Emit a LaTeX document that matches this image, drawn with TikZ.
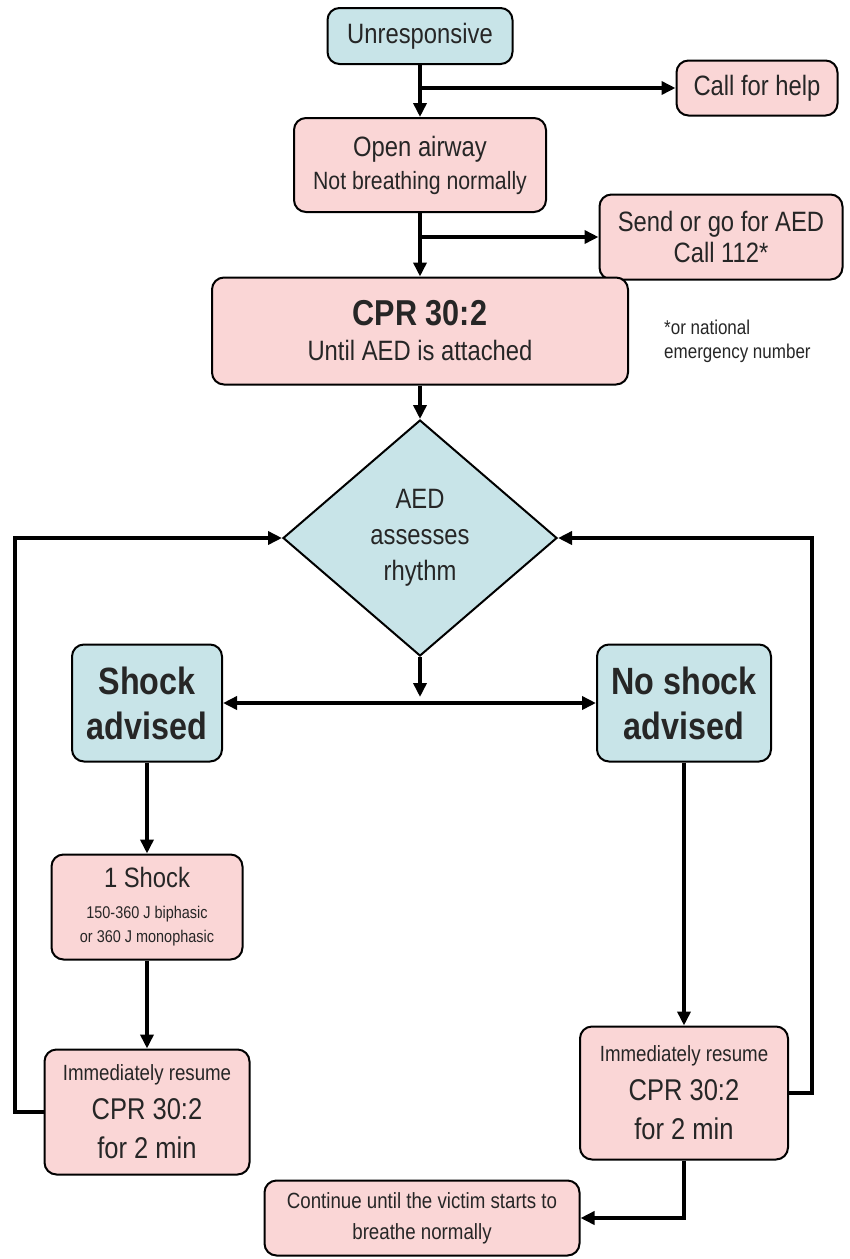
\documentclass[tikz,border=0pt]{standalone}
\usepackage{fontspec}
\setmainfont{Liberation Sans}[FakeStretch=0.85]
\usetikzlibrary{arrows.meta,shapes.geometric}
\definecolor{bluefill}{RGB}{200,228,232}
\definecolor{pinkfill}{RGB}{250,214,214}
\newcommand\fsz[2]{\fontsize{#1}{#2}\selectfont}
\tikzset{
  box/.style={draw=black, line width=2pt, rounded corners=12pt, align=center, inner sep=0pt, text=black!85},
  bluebox/.style={box, fill=bluefill},
  pinkbox/.style={box, fill=pinkfill},
  arr/.style={line width=3.5pt, -{Triangle[length=14pt,width=13pt]}},
  arrboth/.style={line width=3.5pt, {Triangle[length=14pt,width=13pt]}-{Triangle[length=14pt,width=13pt]}},
}
\begin{document}
\begin{tikzpicture}[x=1pt,y=-1pt]
\useasboundingbox (0,0) rectangle (850,1259);

\node[bluebox, minimum width=185pt, minimum height=56pt, font=\fsz{28}{32}] (un) at (420,36) {Unresponsive};
\node[pinkbox, minimum width=161pt, minimum height=55pt, font=\fsz{28}{32}] (help) at (757,88) {Call for help};
\node[pinkbox, minimum width=252pt, minimum height=94pt, font=\fsz{25}{33}] (open) at (420,165) {{\fsz{28}{33}Open airway}\\Not breathing normally};
\node[pinkbox, minimum width=243pt, minimum height=85pt, font=\fsz{28}{31}] (aed) at (721,237) {Send or go for AED\\Call 112*};
\node[pinkbox, minimum width=416pt, minimum height=107pt, font=\fsz{28}{35}] (cpr) at (420,331) {{\fsz{36}{35}\bfseries CPR 30:2}\\Until AED is attached};
\node[anchor=north west, align=left, inner sep=0pt, text=black!85, font=\fsz{20}{24}] (note) at (664,320) {*or national\\emergency number};

\node[diamond, draw=black, line width=2pt, fill=bluefill, minimum width=274pt, minimum height=236pt, inner sep=0pt, align=center, text=black!85, font=\fsz{28}{36}] (dia) at (420,538) {AED\\assesses\\rhythm};

\node[bluebox, minimum width=150pt, minimum height=117pt, font=\fsz{38}{45}\bfseries] (shock) at (147,703) {Shock\\advised};
\node[bluebox, minimum width=174pt, minimum height=117pt, font=\fsz{38}{45}\bfseries] (noshock) at (684,703) {No shock\\advised};

\node[pinkbox, minimum width=191pt, minimum height=105pt, font=\fsz{17}{24}] (one) at (147,907) {\rule{0pt}{6pt}{\fsz{28}{30}1 Shock}\\[7pt]150-360 J biphasic\\or 360 J monophasic};
\node[pinkbox, minimum width=205pt, minimum height=125pt, font=\fsz{30}{39}] (resL) at (147,1112) {\rule{0pt}{10pt}{\fsz{22}{26}Immediately resume}\\CPR 30:2\\for 2 min};
\node[pinkbox, minimum width=208pt, minimum height=133pt, font=\fsz{30}{39}] (resR) at (684,1093) {\rule{0pt}{10pt}{\fsz{22}{26}Immediately resume}\\CPR 30:2\\for 2 min};
\node[pinkbox, minimum width=315pt, minimum height=75pt, font=\fsz{22}{31}] (cont) at (422,1218) {Continue until the victim starts to\\breathe normally};

\coordinate (lx) at (15,0);
\coordinate (rx) at (812,0);

\draw[arr] (un.south) -- (open.north);
\draw[arr] (un.south |- help.west) -- (help.west);
\draw[arr] (open.south) -- (cpr.north);
\draw[arr] (open.south |- aed.west) -- (aed.west);
\draw[arr] (cpr.south) -- (dia.north);
\draw[arr, shorten >=6pt] (dia.south) -- (dia.south |- shock.east);
\draw[arrboth] (shock.east) -- (noshock.west);
\draw[arr] (shock.south) -- (one.north);
\draw[arr] (one.south) -- (resL.north);
\draw[arr] (resL.west) -- (lx |- resL.west) -- (lx |- dia.west) -- (dia.west);
\draw[arr] (noshock.south) -- (resR.north);
\draw[arr] (resR.east) -- (rx |- resR.east) -- (rx |- dia.east) -- (dia.east);
\draw[arr] (resR.south) |- (cont.east);
\end{tikzpicture}
\end{document}
